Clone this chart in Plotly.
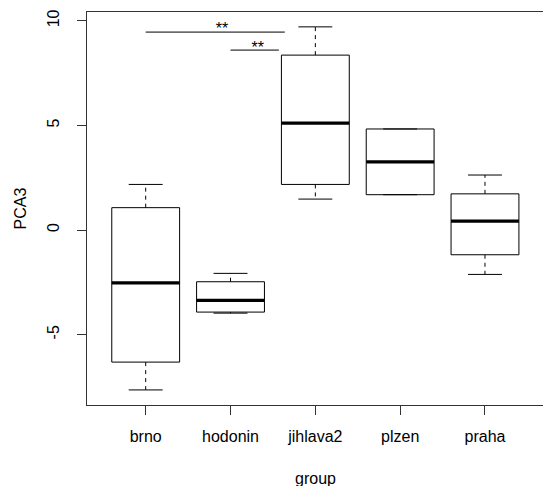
import plotly.graph_objects as go

# PCA3 scores summarised per sampling group
groups = ["brno", "hodonin", "jihlava2", "plzen", "praha"]
whisker_low = [-7.64, -3.97, 1.48, 1.69, -2.12]
q1 = [-6.31, -3.92, 2.18, 1.69, -1.18]
median = [-2.52, -3.36, 5.11, 3.26, 0.43]
q3 = [1.07, -2.47, 8.36, 4.83, 1.73]
whisker_high = [2.18, -2.07, 9.71, 4.83, 2.63]

# significance brackets (from, to, height) and star label positions
sig_from = [1.0, 2.0]
sig_to = [2.64, 2.57]
sig_y = [9.46, 8.60]
star_x = [1.90, 2.32]
star_y = [9.57, 8.67]
star_text = ["**", "**"]

y_ticks = [-5, 0, 5, 10]

BOX_HALF = 0.4
CAP_HALF = 0.2
INK = "#000000"
FONT = "Liberation Sans, Arial, sans-serif"

pos = list(range(1, len(groups) + 1))

box_x, box_y = [], []
med_x, med_y = [], []
whisk_x, whisk_y = [], []
cap_x, cap_y = [], []
for p, lo, a, m, b, hi in zip(pos, whisker_low, q1, median, q3, whisker_high):
    box_x += [p - BOX_HALF, p + BOX_HALF, p + BOX_HALF, p - BOX_HALF, p - BOX_HALF, None]
    box_y += [a, a, b, b, a, None]
    med_x += [p - BOX_HALF, p + BOX_HALF, None]
    med_y += [m, m, None]
    whisk_x += [p, p, None, p, p, None]
    whisk_y += [a, lo, None, b, hi, None]
    cap_x += [p - CAP_HALF, p + CAP_HALF, None, p - CAP_HALF, p + CAP_HALF, None]
    cap_y += [lo, lo, None, hi, hi, None]

sig_x, sig_yy = [], []
for x0, x1, y in zip(sig_from, sig_to, sig_y):
    sig_x += [x0, x1, None]
    sig_yy += [y, y, None]

fig = go.Figure()
fig.add_trace(go.Scatter(x=whisk_x, y=whisk_y, mode="lines",
                         line=dict(color=INK, width=1, dash="4px,4px"), hoverinfo="skip"))
fig.add_trace(go.Scatter(x=cap_x, y=cap_y, mode="lines",
                         line=dict(color=INK, width=1), hoverinfo="skip"))
fig.add_trace(go.Scatter(x=box_x, y=box_y, mode="lines",
                         line=dict(color=INK, width=1), hoverinfo="skip"))
fig.add_trace(go.Scatter(x=med_x, y=med_y, mode="lines",
                         line=dict(color=INK, width=3.2), hoverinfo="skip"))
fig.add_trace(go.Scatter(x=sig_x, y=sig_yy, mode="lines",
                         line=dict(color=INK, width=1), hoverinfo="skip"))
fig.add_trace(go.Scatter(x=star_x, y=star_y, mode="text", text=star_text,
                         textfont=dict(family=FONT, size=16, color=INK),
                         textposition="middle center", hoverinfo="skip"))

fig.add_annotation(text="group", xref="paper", yref="paper", x=0.5, y=0,
                   yanchor="middle", yshift=-73, showarrow=False,
                   font=dict(family=FONT, size=16, color=INK))
fig.add_annotation(text="PCA3", xref="paper", yref="paper", x=0, y=0.5,
                   xanchor="center", xshift=-67, textangle=-90, showarrow=False,
                   font=dict(family=FONT, size=16, color=INK))

fig.update_layout(
    width=543, height=486,
    margin=dict(l=87, r=0, t=12, b=81),
    paper_bgcolor="white", plot_bgcolor="white",
    showlegend=False,
    font=dict(family=FONT, size=16, color=INK),
)
fig.update_xaxes(
    range=[0.308, 5.684], tickmode="array", tickvals=pos, ticktext=groups,
    showgrid=False, zeroline=False, showline=True, linecolor="#333333", linewidth=1,
    mirror=True, ticks="outside", ticklen=9, tickcolor="#333333",
    tickfont=dict(family=FONT, size=16, color=INK), ticklabelstandoff=8,
)
fig.update_yaxes(
    range=[-8.36, 10.42], tickmode="array", tickvals=y_ticks,
    ticktext=[str(v) for v in y_ticks], tickangle=-90,
    showgrid=False, zeroline=False, showline=True, linecolor="#333333", linewidth=1,
    mirror=False, ticks="outside", ticklen=9, tickcolor="#333333",
    tickfont=dict(family=FONT, size=16, color=INK), ticklabelstandoff=12,
)

fig.write_html("out.html")
